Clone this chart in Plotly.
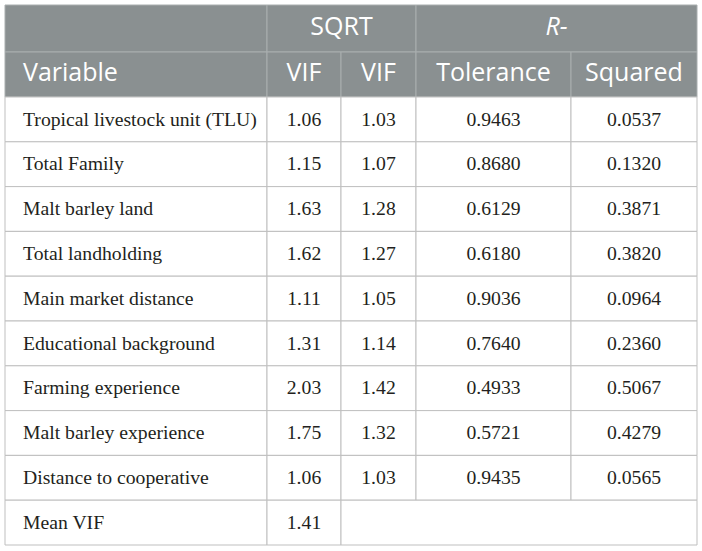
import plotly.graph_objects as go

# table data
variables = ["Tropical livestock unit (TLU)", "Total Family", "Malt barley land",
             "Total landholding", "Main market distance", "Educational background",
             "Farming experience", "Malt barley experience", "Distance to cooperative"]
vif = ["1.06", "1.15", "1.63", "1.62", "1.11", "1.31", "2.03", "1.75", "1.06"]
sqrt_vif = ["1.03", "1.07", "1.28", "1.27", "1.05", "1.14", "1.42", "1.32", "1.03"]
tolerance = ["0.9463", "0.8680", "0.6129", "0.6180", "0.9036", "0.7640", "0.4933", "0.5721", "0.9435"]
r_squared = ["0.0537", "0.1320", "0.3871", "0.3820", "0.0964", "0.2360", "0.5067", "0.4279", "0.0565"]

group_header = ["", "SQRT", "<i>R-</i>"]
group_span = [1, 2, 2]
col_header = ["Variable", "VIF", "VIF", "Tolerance", "Squared"]
mean_label = "Mean VIF"
mean_vif = "1.41"

W, H = 702, 551
HEAD_GRAY = "#8a9091"
HEAD_LINE = "#a9aeaf"
BODY_LINE = "#bfbfbf"
TEXT = "#231f20"
HEAD_FONT = dict(family="Open Sans", size=25, color="white")
BODY_FONT = dict(family="Liberation Serif", size=19.7, color=TEXT)

# layout of the grid (pixels)
col_w = [262, 74, 75, 155, 126]
row_h = [47, 45] + [44.8] * (len(variables) + 1)
x0, y0 = 5, 5
PAD = 18
HEAD_DY = 0.6
BODY_DY = 1.2

col_edges = [x0]
for w in col_w:
    col_edges.append(col_edges[-1] + w)
row_edges = [y0]
for h in row_h:
    row_edges.append(row_edges[-1] + h)


def cell(c0, c1, r, fill, line):
    return dict(type="rect", xref="x", yref="y", layer="below",
                x0=col_edges[c0], x1=col_edges[c1], y0=row_edges[r], y1=row_edges[r + 1],
                fillcolor=fill, line=dict(color=line, width=1))


def mid_y(r):
    return (row_edges[r] + row_edges[r + 1]) / 2


shapes = []
texts = []  # (x, y, text, position, font)

# group header row (merged cells)
c = 0
for label, span in zip(group_header, group_span):
    shapes.append(cell(c, c + span, 0, HEAD_GRAY, HEAD_LINE))
    texts.append(((col_edges[c] + col_edges[c + span]) / 2, mid_y(0) + HEAD_DY, label,
                  "middle center", HEAD_FONT))
    c += span

# column header row
for j, label in enumerate(col_header):
    shapes.append(cell(j, j + 1, 1, HEAD_GRAY, HEAD_LINE))
    if j == 0:
        texts.append((col_edges[0] + PAD, mid_y(1), label, "middle right", HEAD_FONT))
    else:
        texts.append(((col_edges[j] + col_edges[j + 1]) / 2, mid_y(1), label, "middle center", HEAD_FONT))

# body
columns = [variables, vif, sqrt_vif, tolerance, r_squared]
for i in range(len(variables)):
    r = i + 2
    for j, col in enumerate(columns):
        shapes.append(cell(j, j + 1, r, "white", BODY_LINE))
        if j == 0:
            texts.append((col_edges[0] + PAD, mid_y(r) + BODY_DY, col[i], "middle right", BODY_FONT))
        else:
            texts.append(((col_edges[j] + col_edges[j + 1]) / 2, mid_y(r) + BODY_DY, col[i],
                          "middle center", BODY_FONT))

# mean VIF row
r = len(variables) + 2
shapes.append(cell(0, 1, r, "white", BODY_LINE))
shapes.append(cell(1, 2, r, "white", BODY_LINE))
shapes.append(cell(2, 5, r, "white", BODY_LINE))
texts.append((col_edges[0] + PAD, mid_y(r) + BODY_DY, mean_label, "middle right", BODY_FONT))
texts.append(((col_edges[1] + col_edges[2]) / 2, mid_y(r) + BODY_DY, mean_vif, "middle center", BODY_FONT))

fig = go.Figure()
for pos in ["middle right", "middle center"]:
    for fnt in [HEAD_FONT, BODY_FONT]:
        sel = [t for t in texts if t[3] == pos and t[4] is fnt]
        if not sel:
            continue
        fig.add_trace(go.Scatter(
            x=[t[0] for t in sel], y=[t[1] for t in sel], text=[t[2] for t in sel],
            mode="text", textposition=pos, textfont=fnt, hoverinfo="skip", showlegend=False,
        ))

fig.update_layout(
    width=W, height=H, margin=dict(l=0, r=0, t=0, b=0),
    paper_bgcolor="white", plot_bgcolor="white", shapes=shapes,
    xaxis=dict(range=[0, W], visible=False, fixedrange=True),
    yaxis=dict(range=[H, 0], visible=False, fixedrange=True),
)
fig.write_html("out.html", config={"displayModeBar": False},
               post_script="document.body.style.margin='0';")
